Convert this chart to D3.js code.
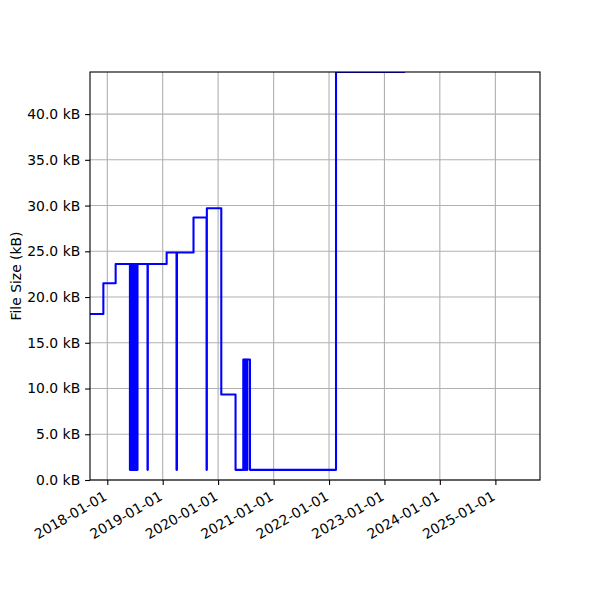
<!DOCTYPE html>
<html>
<head>
<meta charset="utf-8">
<script src="https://cdn.jsdelivr.net/npm/d3@7"></script>
<style>
  body { margin: 0; background: #fff; }
  text { font-family: "DejaVu Sans", sans-serif; fill: #000; }
</style>
</head>
<body>
<div id="chart"></div>
<script>

// commit dates and file size (kB) after each commit, drawn as a post-step line
const dates = [
  "2017-09-09", "2017-12-06", "2018-02-25",
  "2018-05-30", "2018-06-03", "2018-06-07", "2018-06-11", "2018-06-15", "2018-06-19",
  "2018-06-23", "2018-06-27", "2018-07-01", "2018-07-05", "2018-07-09", "2018-07-13",
  "2018-07-16", "2018-07-19",
  "2018-09-23", "2018-09-25",
  "2019-01-27",
  "2019-04-02", "2019-04-05",
  "2019-07-23",
  "2019-10-17", "2019-10-19",
  "2020-01-22", "2020-04-25",
  "2020-06-15", "2020-06-22", "2020-06-25", "2020-07-01", "2020-07-03", "2020-07-09",
  "2020-07-12", "2020-07-29",
  "2022-02-16", "2023-05-17"
];
const sizes = [
  18.15, 21.5, 23.61,
  1.11, 23.61, 1.11, 23.61, 1.11, 23.61,
  1.11, 23.61, 1.11, 23.61, 1.11, 23.61,
  1.11, 23.61,
  1.11, 23.61,
  24.87,
  1.11, 24.87,
  28.7,
  1.11, 29.71,
  9.35, 1.11,
  13.17, 1.11, 13.17, 1.11, 13.17, 1.11,
  13.17, 1.11,
  44.6, 44.6
];

const xTicks = ["2018-01-01", "2019-01-01", "2020-01-01", "2021-01-01",
                "2022-01-01", "2023-01-01", "2024-01-01", "2025-01-01"];
const yTicks = [0, 5, 10, 15, 20, 25, 30, 35, 40];
const xLimits = ["2017-09-09", "2025-10-22"];

const width = 600;
const height = 600;
const margin = {left: 90, right: 60, top: 72, bottom: 120};
const parse = d3.utcParse("%Y-%m-%d");

const data = dates.map((d, i) => ({date: parse(d), size: sizes[i]}));

const svg = d3.select("#chart")
  .append("svg")
  .attr("width", width)
  .attr("height", height);

// scales
const xScale = d3.scaleUtc()
  .domain(xLimits.map(parse))
  .range([margin.left, width - margin.right]);

const yScale = d3.scaleLinear()
  .domain([0, d3.max(sizes)])
  .range([height - margin.bottom, margin.top]);

// grid lines
svg.append("g")
  .selectAll("line")
  .data(xTicks)
  .enter()
  .append("line")
    .attr("x1", d => xScale(parse(d)))
    .attr("x2", d => xScale(parse(d)))
    .attr("y1", margin.top)
    .attr("y2", height - margin.bottom)
    .attr("stroke", "#b0b0b0")
    .attr("stroke-width", 1.1);

svg.append("g")
  .selectAll("line")
  .data(yTicks)
  .enter()
  .append("line")
    .attr("x1", margin.left)
    .attr("x2", width - margin.right)
    .attr("y1", d => yScale(d))
    .attr("y2", d => yScale(d))
    .attr("stroke", "#b0b0b0")
    .attr("stroke-width", 1.1);

// clip the line to the plot area
svg.append("clipPath")
  .attr("id", "plot-clip")
  .append("rect")
    .attr("x", margin.left)
    .attr("y", margin.top)
    .attr("width", width - margin.left - margin.right)
    .attr("height", height - margin.top - margin.bottom);

const line = d3.line()
  .x(d => xScale(d.date))
  .y(d => yScale(d.size))
  .curve(d3.curveStepAfter);

svg.append("path")
  .datum(data)
  .attr("clip-path", "url(#plot-clip)")
  .attr("fill", "none")
  .attr("stroke", "#0000ff")
  .attr("stroke-width", 2.08)
  .attr("stroke-linejoin", "round")
  .attr("d", line);

// axes
const xAxis = svg.append("g")
  .attr("transform", `translate(0,${height - margin.bottom})`)
  .call(d3.axisBottom(xScale)
          .tickValues(xTicks.map(parse))
          .tickFormat(d3.utcFormat("%Y-%m-%d"))
          .tickSize(4.9)
          .tickSizeOuter(0));

xAxis.select(".domain").remove();
xAxis.selectAll(".tick line").attr("stroke-width", 1.1);
xAxis.selectAll(".tick text")
  .attr("font-size", "13.9px")
  .attr("text-anchor", "end")
  .attr("y", 0)
  .attr("dy", "0.75em")
  .attr("transform", "translate(-5,10) rotate(-30)");

const yAxis = svg.append("g")
  .attr("transform", `translate(${margin.left},0)`)
  .call(d3.axisLeft(yScale)
          .tickValues(yTicks)
          .tickFormat(d => d.toFixed(1) + " kB")
          .tickSize(4.9)
          .tickPadding(4.9)
          .tickSizeOuter(0));

yAxis.select(".domain").remove();
yAxis.selectAll(".tick line").attr("stroke-width", 1.1);
yAxis.selectAll(".tick text").attr("font-size", "13.9px");

// spines on top of everything
svg.append("rect")
  .attr("x", margin.left)
  .attr("y", margin.top)
  .attr("width", width - margin.left - margin.right)
  .attr("height", height - margin.top - margin.bottom)
  .attr("fill", "none")
  .attr("stroke", "#000")
  .attr("stroke-width", 1.1);

// y label
svg.append("text")
  .attr("transform", `translate(21,${(margin.top + height - margin.bottom) / 2}) rotate(-90)`)
  .attr("text-anchor", "middle")
  .attr("font-size", "13.9px")
  .text("File Size (kB)");

</script>
</body>
</html>
